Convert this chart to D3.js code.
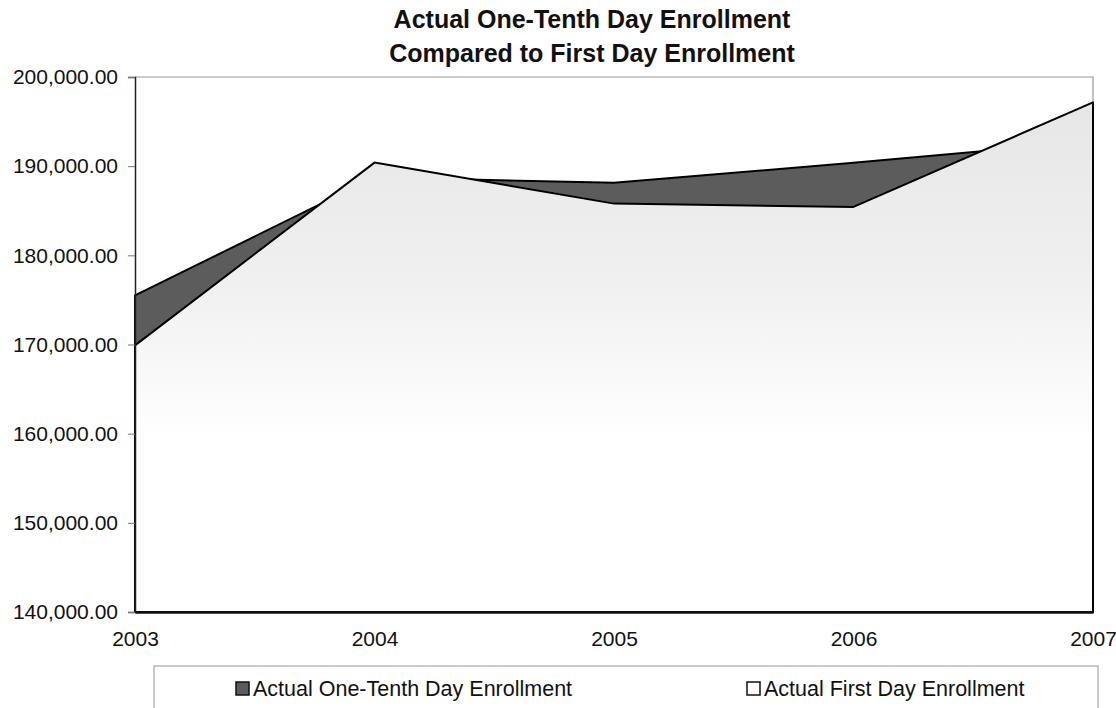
<!DOCTYPE html>
<html>
<head>
<meta charset="utf-8">
<script src="https://cdn.jsdelivr.net/npm/d3@7"></script>
<style>
  body { margin: 0; background: #fff; }
  text { font-family: Arial, "Liberation Sans", sans-serif; fill: #111; }
</style>
</head>
<body>
<div id="chart"></div>
<script>
// enrollment area chart (one-tenth day vs first day)

var years = [2003, 2004, 2005, 2006, 2007];
var oneTenth = [175500, 188750, 188130, 190370, 192800];   // dark series
var firstDay = [169900, 190400, 185800, 185430, 197160];   // light series
var yTicks = [140000, 150000, 160000, 170000, 180000, 190000, 200000];
var titleLines = ["Actual One-Tenth Day Enrollment", "Compared to First Day Enrollment"];
var legendNames = ["Actual One-Tenth Day Enrollment", "Actual First Day Enrollment"];

var width = 1116,
    height = 708;

var svg = d3.select("#chart").append("svg")
    .attr("width", width)
    .attr("height", height);

var x = d3.scaleLinear()
    .domain([years[0], years[years.length - 1]])
    .range([135, 1093]);

var y = d3.scaleLinear()
    .domain([140000, 200000])
    .range([612, 77]);

// light fill fades out toward the bottom like the scan
var grad = svg.append("defs").append("linearGradient")
    .attr("id", "lightFill")
    .attr("gradientUnits", "userSpaceOnUse")
    .attr("x1", 0).attr("y1", 90).attr("x2", 0).attr("y2", 440);
grad.append("stop").attr("offset", 0).attr("stop-color", "#e6e6e6");
grad.append("stop").attr("offset", 0.55).attr("stop-color", "#f0f0f0");
grad.append("stop").attr("offset", 1).attr("stop-color", "#ffffff");

// plot frame (top + right, thin gray)
svg.append("path")
    .attr("d", "M" + x.range()[0] + "," + y.range()[1] + "H" + x.range()[1] + "V" + y.range()[0])
    .attr("fill", "none")
    .attr("stroke", "#9a9a9a")
    .attr("stroke-width", 1.2);

var area = d3.area()
    .x(function(d, i) { return x(years[i]); })
    .y0(y(140000))
    .y1(function(d) { return d; });

// dark series goes behind
svg.append("path")
    .datum(oneTenth.map(function(v) { return y(v); }))
    .attr("d", area)
    .attr("fill", "#5c5c5c")
    .attr("stroke", "#000")
    .attr("stroke-width", 2)
    .attr("stroke-linejoin", "round");

svg.append("path")
    .datum(firstDay.map(function(v) { return y(v); }))
    .attr("d", area)
    .attr("fill", "url(#lightFill)")
    .attr("stroke", "#000")
    .attr("stroke-width", 2)
    .attr("stroke-linejoin", "round");

// y axis
var yAxis = svg.append("g")
    .attr("transform", "translate(" + x.range()[0] + ",0)")
    .call(d3.axisLeft(y).tickValues(yTicks).tickFormat(d3.format(",.2f")).tickSize(7).tickPadding(10));
yAxis.select(".domain").attr("stroke", "#222").attr("stroke-width", 1.5);
yAxis.selectAll(".tick line").attr("stroke", "#777");
yAxis.selectAll("text").style("font-size", "21px").attr("fill", "#111");

// x axis
var xAxis = svg.append("g")
    .attr("transform", "translate(0," + y.range()[0] + ")")
    .call(d3.axisBottom(x).tickValues(years).tickFormat(d3.format("d")).tickSize(0).tickPadding(19));
xAxis.select(".domain").attr("stroke", "#111").attr("stroke-width", 2.5);
xAxis.selectAll("text").style("font-size", "21px").attr("fill", "#111");

// title
svg.selectAll(".title")
    .data(titleLines)
    .enter().append("text")
    .attr("class", "title")
    .attr("x", 592)
    .attr("y", function(d, i) { return 28 + i * 34; })
    .attr("text-anchor", "middle")
    .style("font-size", "25px")
    .style("font-weight", "bold")
    .text(function(d) { return d; });

// legend
var legend = svg.append("g");
legend.append("rect")
    .attr("x", 154).attr("y", 666)
    .attr("width", 944).attr("height", 60)
    .attr("fill", "#fff")
    .attr("stroke", "#a8a8a8")
    .attr("stroke-width", 1.2);

var legendX = [236, 747];
var legendFill = ["#5c5c5c", "#fff"];
var item = legend.selectAll(".item")
    .data(legendNames)
    .enter().append("g")
    .attr("class", "item")
    .attr("transform", function(d, i) { return "translate(" + legendX[i] + ",682)"; });
item.append("rect")
    .attr("width", 13).attr("height", 13)
    .attr("fill", function(d, i) { return legendFill[i]; })
    .attr("stroke", "#111")
    .attr("stroke-width", 1.5);
item.append("text")
    .attr("x", 17)
    .attr("y", 14)
    .style("font-size", "21.5px")
    .text(function(d) { return d; });
</script>
</body>
</html>
